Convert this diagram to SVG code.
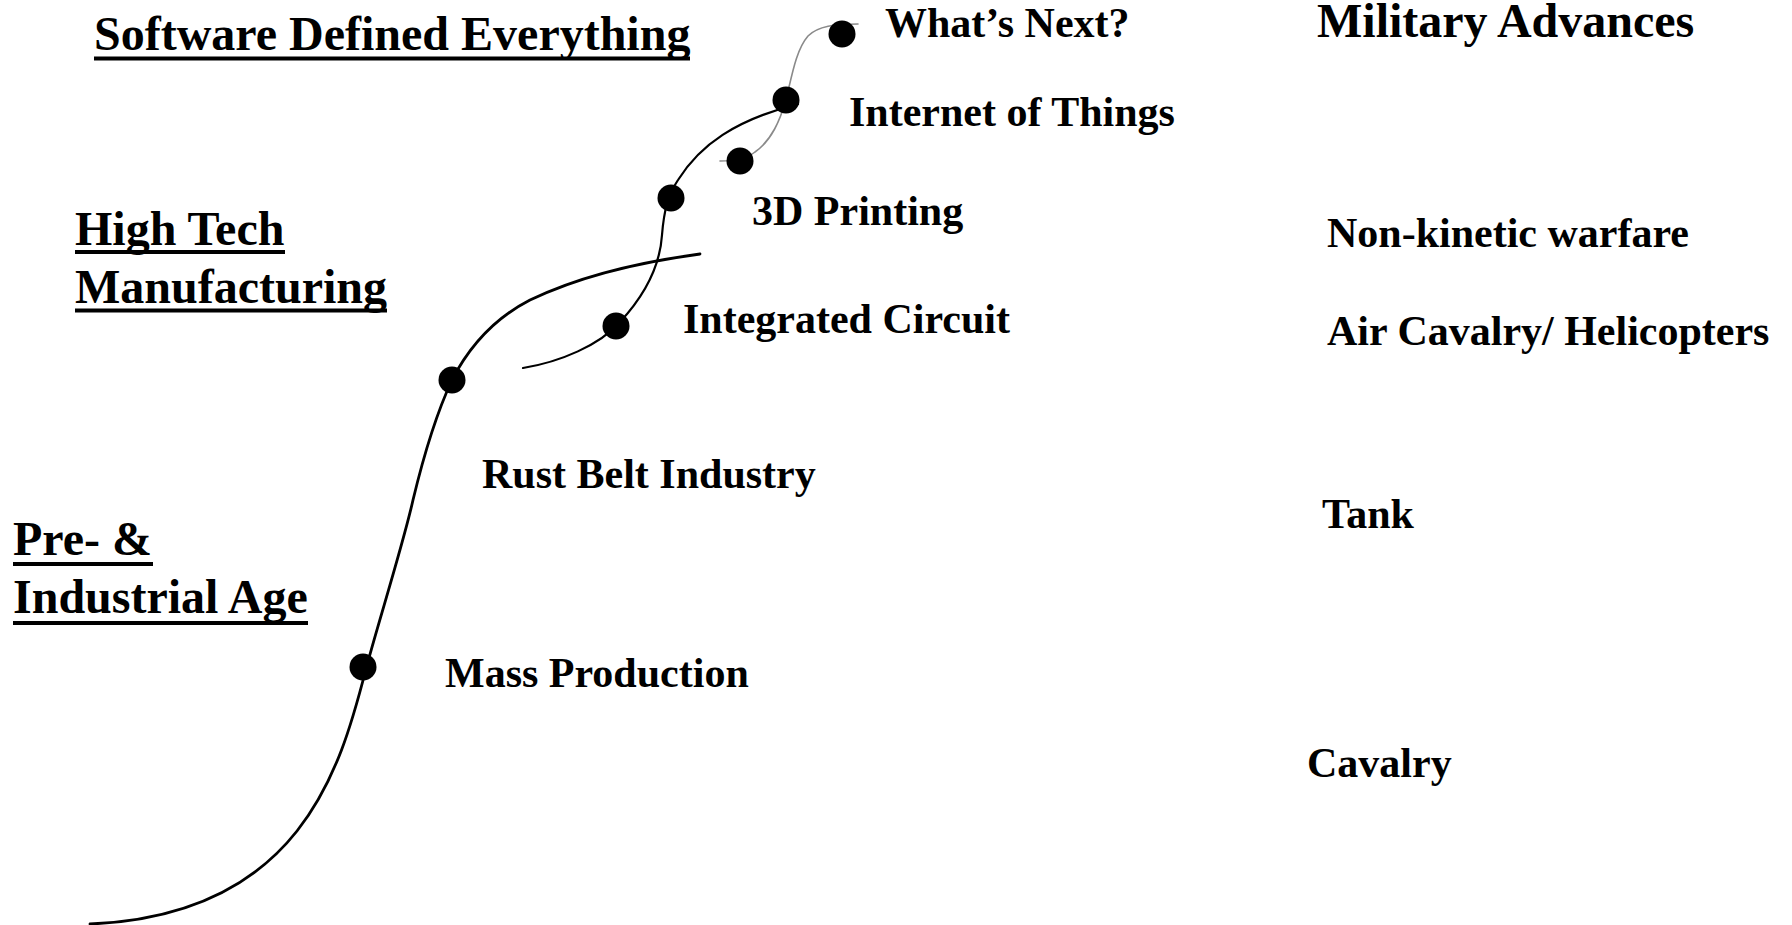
<svg xmlns="http://www.w3.org/2000/svg" width="1792" height="925" viewBox="0 0 1792 925">
<style>
.lbl{font-family:"Liberation Serif","Times New Roman",serif;font-weight:bold;font-size:42px;fill:#000}
.hdr{font-family:"Liberation Serif","Times New Roman",serif;font-weight:bold;font-size:48px;fill:#000}
.ul{stroke:#000;stroke-width:4}
.dot{fill:#000}
.main{fill:none;stroke:#000;stroke-width:2.8;stroke-linecap:round}
.sec{fill:none;stroke:#000;stroke-width:2.2;stroke-linecap:round}
.grey{fill:none;stroke:#8a8a8a;stroke-width:1.6;stroke-linecap:round}
</style>
<rect width="1792" height="925" fill="#fff"/>
<g id="connectors">
<path class="main" d="M 90 924 C 300 915, 340 770, 366 669 C 376 630, 403 545, 413 500 C 425 450, 438 410, 452 380 C 470 345, 495 318, 530 300 C 580 276, 640 262, 700 254"/>
<path class="sec" d="M 523 368 C 560 362, 600 345, 620 322 C 645 295, 660 265, 662 235 C 664 210, 668 195, 678 180 C 700 145, 735 120, 798 104"/>
<path class="grey" d="M 720 161 C 730 161, 745 160, 755 152 C 772 140, 780 120, 786 100 C 792 75, 796 50, 808 36 C 818 26, 835 24, 858 24"/>
</g>
<g id="hdr-software">
<text class="hdr" x="94" y="50">Software Defined Everything</text>
<line class="ul" x1="94" y1="58.5" x2="690" y2="58.5"/>
</g>
<g id="hdr-hightech">
<text class="hdr" x="75" y="245">High Tech</text>
<line class="ul" x1="75" y1="252" x2="285" y2="252"/>
<text class="hdr" x="75" y="303">Manufacturing</text>
<line class="ul" x1="75" y1="310.5" x2="387" y2="310.5"/>
</g>
<g id="hdr-industrial">
<text class="hdr" x="13" y="555">Pre- &amp;</text>
<line class="ul" x1="13" y1="564" x2="153" y2="564"/>
<text class="hdr" x="13" y="613">Industrial Age</text>
<line class="ul" x1="13" y1="623" x2="308" y2="623"/>
</g>
<g id="node-mass">
<circle class="dot" cx="363" cy="667" r="13.5"/>
<text class="lbl" x="445" y="687">Mass Production</text>
</g>
<g id="node-rust">
<circle class="dot" cx="452" cy="380" r="13.5"/>
<text class="lbl" x="482" y="488">Rust Belt Industry</text>
</g>
<g id="node-ic">
<circle class="dot" cx="616" cy="326" r="13.5"/>
<text class="lbl" x="683" y="333">Integrated Circuit</text>
</g>
<g id="node-3d">
<circle class="dot" cx="671" cy="198" r="13.5"/>
<text class="lbl" x="752" y="225">3D Printing</text>
</g>
<g id="node-small">
<circle class="dot" cx="740" cy="161" r="13.5"/>
</g>
<g id="node-iot">
<circle class="dot" cx="786" cy="100" r="13.5"/>
<text class="lbl" x="849" y="126">Internet of Things</text>
</g>
<g id="node-next">
<circle class="dot" cx="842" cy="34" r="13.5"/>
<text class="lbl" x="885" y="37">What’s Next?</text>
</g>
<g id="military">
<text class="hdr" x="1317" y="37">Military Advances</text>
<text class="lbl" x="1327" y="247">Non-kinetic warfare</text>
<text class="lbl" x="1327" y="345">Air Cavalry/ Helicopters</text>
<text class="lbl" x="1322" y="528">Tank</text>
<text class="lbl" x="1307" y="777">Cavalry</text>
</g>
</svg>
